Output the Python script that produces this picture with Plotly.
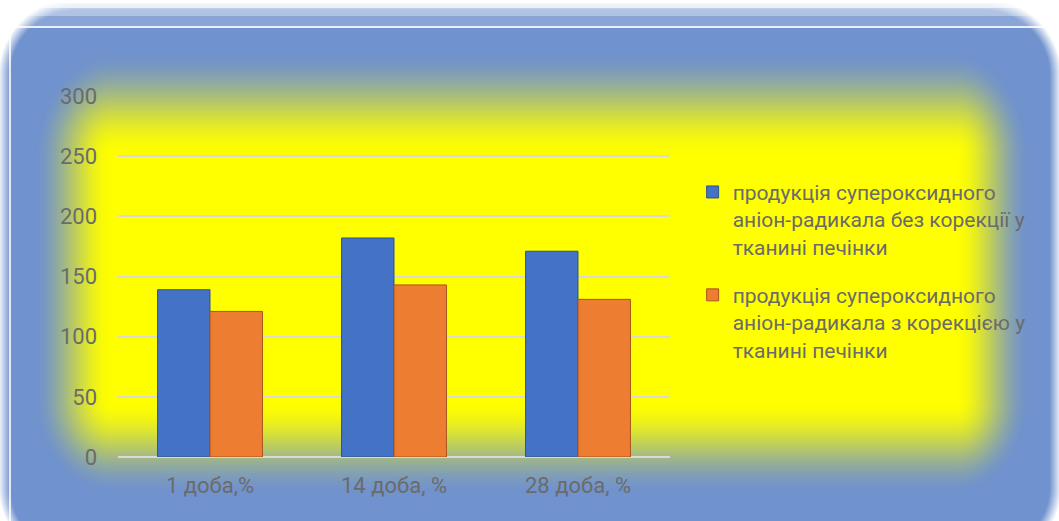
import base64, struct, zlib
import numpy as np
import plotly.graph_objects as go

categories = ["1 доба,%", "14 доба, %", "28 доба, %"]
series_names = [
    "продукція супероксидного<br>аніон-радикала без корекції у<br>тканині печінки",
    "продукція супероксидного<br>аніон-радикала з корекцією у<br>тканині печінки",
]
values_without = [139, 182, 171]
values_with = [121, 143, 131]
y_ticks = [0, 50, 100, 150, 200, 250, 300]

W, H = 1059, 521
L, R, T, B = 118, 1059 - 670, 96, 521 - 457


def png_data_uri(img):
    h, w, _ = img.shape
    raw = b"".join(b"\x00" + img[r].tobytes() for r in range(h))

    def chunk(tag, data):
        c = struct.pack(">I", len(data)) + tag + data
        return c + struct.pack(">I", zlib.crc32(tag + data) & 0xFFFFFFFF)

    png = b"\x89PNG\r\n\x1a\n" + chunk(b"IHDR", struct.pack(">IIBBBBB", w, h, 8, 2, 0, 0, 0))
    png += chunk(b"IDAT", zlib.compress(raw, 9)) + chunk(b"IEND", b"")
    return "data:image/png;base64," + base64.b64encode(png).decode()


def rrect_dist(X, Y, x0, y0, x1, y1, r):
    cx, cy = (x0 + x1) / 2, (y0 + y1) / 2
    hx, hy = (x1 - x0) / 2 - r, (y1 - y0) / 2 - r
    qx = np.abs(X - cx) - hx
    qy = np.abs(Y - cy) - hy
    out = np.sqrt(np.maximum(qx, 0) ** 2 + np.maximum(qy, 0) ** 2)
    return out + np.minimum(np.maximum(qx, qy), 0) - r


Y, X = np.mgrid[0:H, 0:W].astype(float)
blue = np.array([112, 146, 206], float)
yellow = np.array([255, 255, 0], float)
white = np.array([255, 255, 255], float)

# yellow glow: separable normalised distances, combined smoothly
cx0, cx1, cy0, cy1 = 112, 955, 155, 400
tx = np.maximum.reduce([np.zeros_like(X), (cx0 - X) / 80.0, (X - cx1) / 75.0])
ty = np.maximum.reduce([np.zeros_like(Y), (cy0 - Y) / 105.0, (Y - cy1) / 95.0])
tc = np.clip(np.sqrt(tx ** 2 + ty ** 2), 0, 1)
tc = tc * tc * (3 - 2 * tc)
img = yellow[None, None, :] * (1 - tc[..., None]) + blue[None, None, :] * tc[..., None]

# light top band
img[Y < 26] = blue * 0.82 + white * 0.18
img[Y < 16] = blue * 0.55 + white * 0.45
img[Y < 8] = blue * 0.2 + white * 0.8
img[Y < 3] = white
# white thin lines
img[(Y >= 26) & (Y < 28) & (X > 8)] = white * 0.85 + blue * 0.15
img[(X >= 9) & (X < 11) & (Y > 26)] = white * 0.8 + blue * 0.2
# outer rounded corners fading to white
douter = rrect_dist(X, Y, 0, 0, W, H + 40, 75)
to = np.clip((douter + 10) / 12, 0, 1)
img = img * (1 - to[..., None]) + white[None, None, :] * to[..., None]
img = np.clip(img, 0, 255).astype(np.uint8)
bg_uri = png_data_uri(img)

pw, ph = W - L - R, H - T - B

fig = go.Figure()
fig.add_trace(go.Bar(
    x=categories, y=values_without, name=series_names[0],
    marker=dict(color="#4472C4", line=dict(color="#2F528F", width=1)),
    legendgroup="a",
))
fig.add_trace(go.Bar(
    x=categories, y=values_with, name=series_names[1],
    marker=dict(color="#ED7D31", line=dict(color="#A9531C", width=1)),
    legendgroup="b",
))

fig.update_layout(
    width=W, height=H,
    margin=dict(l=L, r=R, t=T, b=B),
    paper_bgcolor="white",
    plot_bgcolor="rgba(0,0,0,0)",
    barmode="group", bargap=0.43, bargroupgap=0,
    font=dict(family="Roboto", color="#6b6b6b"),
    images=[dict(
        source=bg_uri, xref="paper", yref="paper",
        x=-L / pw, y=1 + T / ph, sizex=W / pw, sizey=H / ph,
        xanchor="left", yanchor="top", sizing="stretch", layer="below",
    )],
    legend=dict(
        x=1.041, xanchor="left", y=0.79, yanchor="top",
        font=dict(size=21, color="#6b6b6b"),
        bgcolor="rgba(0,0,0,0)", tracegroupgap=18, valign="top",
    ),
    showlegend=True,
)
fig.update_yaxes(
    range=[0, 300], tickvals=y_ticks, showgrid=True, gridcolor="#d9d9d9", gridwidth=2,
    zeroline=True, zerolinecolor="#d9d9d9", zerolinewidth=2, showline=False,
    tickfont=dict(size=22, color="#6b6b6b"), ticks="", ticklabelstandoff=20,
)
fig.update_xaxes(
    showline=False, tickfont=dict(size=22, color="#6b6b6b"), ticks="",
    ticklabelstandoff=13,
)

fig.write_html("out.html")
